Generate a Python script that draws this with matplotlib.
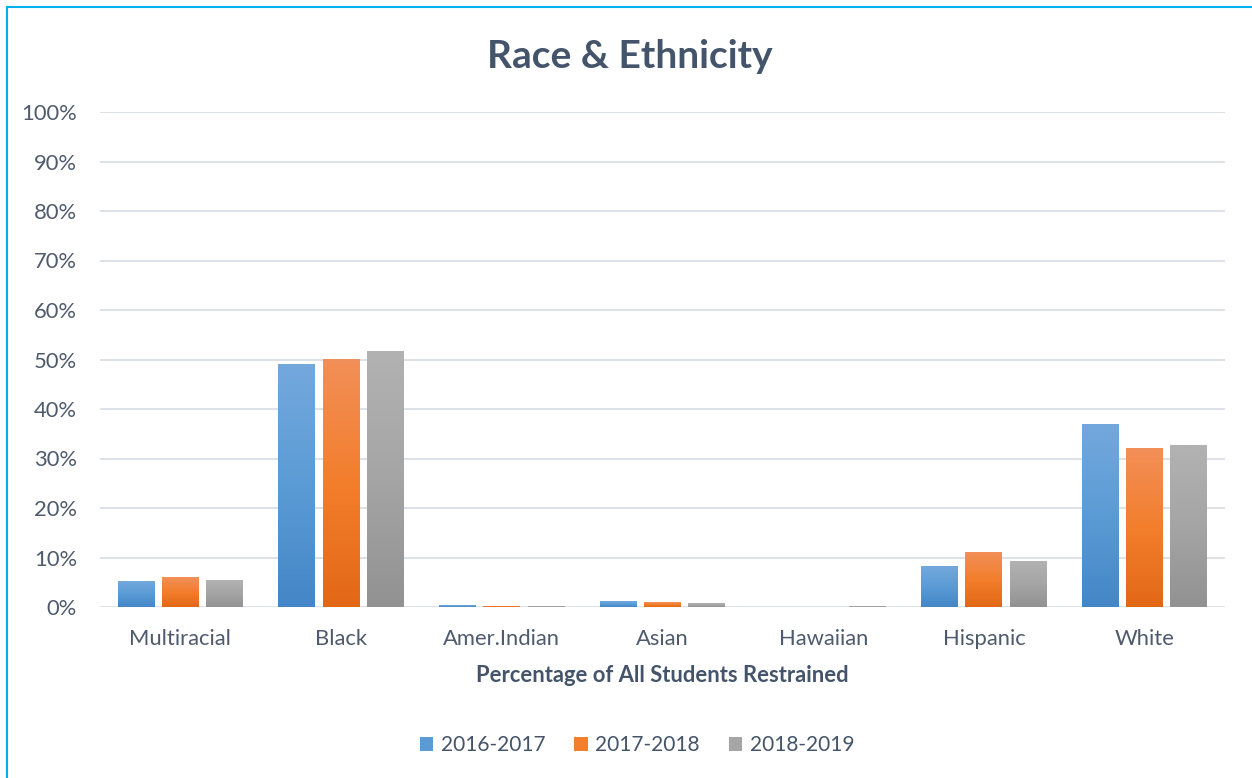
import numpy as np
import matplotlib.pyplot as plt
from matplotlib.colors import LinearSegmentedColormap
from matplotlib.ticker import FuncFormatter
from matplotlib.lines import Line2D

plt.rcParams['font.family'] = ['Lato', 'DejaVu Sans']

categories = ['Multiracial', 'Black', 'Amer.Indian', 'Asian', 'Hawaiian', 'Hispanic', 'White']
years = ['2016-2017', '2017-2018', '2018-2019']
pct_2016 = [5.1, 48.9, 0.4, 1.2, 0.0, 8.1, 36.8]
pct_2017 = [5.9, 50.0, 0.1, 1.0, 0.0, 11.1, 32.1]
pct_2018 = [5.3, 51.7, 0.1, 0.8, 0.1, 9.1, 32.7]

# top / mid / bottom shades for the gradient fill
shades = [('#73A8DD', '#5B9BD5', '#4486C7'),
          ('#F28F58', '#F37E2C', '#E26816'),
          ('#B2B2B2', '#A5A5A5', '#929292')]

text_col = '#44546A'
tick_col = '#4F5B6C'

fig = plt.figure(figsize=(12.52, 7.78), dpi=100)
ax = fig.add_axes([100/1252, 1 - 607/778, 1125/1252, 495/778])

x = np.arange(len(categories))
w = 0.23
step = 0.275
series = [pct_2016, pct_2017, pct_2018]

for i, vals in enumerate(series):
    top, mid, bot = shades[i]
    bars = ax.bar(x + (i - 1) * step, vals, w, color=mid, label=years[i], zorder=2)
    cmap = LinearSegmentedColormap.from_list('g%d' % i, [bot, mid, top])
    grad = np.linspace(0, 1, 100).reshape(-1, 1)
    for r in bars:
        if r.get_height() <= 0:
            continue
        x0, y0 = r.get_x(), r.get_y()
        ax.imshow(grad, cmap=cmap, origin='lower', aspect='auto', zorder=3,
                  extent=(x0, x0 + r.get_width(), y0, y0 + r.get_height()))

ax.set_xlim(-0.5, len(categories) - 0.5)
ax.set_ylim(0, 100)
ax.set_yticks(np.arange(0, 101, 10))
ax.yaxis.set_major_formatter(FuncFormatter(lambda v, p: '%d%%' % v))
ax.grid(axis='y', color='#DDE2E8', linewidth=1.4, zorder=0)
ax.set_axisbelow(True)
for s in ax.spines.values():
    s.set_visible(False)
ax.tick_params(axis='both', length=0, labelsize=15.8, colors=tick_col)
ax.tick_params(axis='y', pad=16.5)
ax.tick_params(axis='x', pad=16)
ax.set_xticks(x)
ax.set_xticklabels(categories)

fig.text(630/1252, 1 - 56/778, 'Race & Ethnicity', ha='center', va='center',
         fontsize=28, fontweight='bold', color=text_col)
fig.text(662/1252, 1 - 676/778, 'Percentage of All Students Restrained', ha='center',
         va='center', fontsize=15.8, fontweight='bold', color=text_col)

leg = fig.legend(loc='center', bbox_to_anchor=(637/1252, 1 - 745/778), ncol=3,
                 frameon=False, fontsize=15, handlelength=0.65, handleheight=0.65,
                 handletextpad=0.35, columnspacing=1.4)
for t in leg.get_texts():
    t.set_color(text_col)

# blue frame on top and left edge
fig.add_artist(Line2D([7/1252, 7/1252], [0, 1 - 7/778], color='#00B0F0', lw=1.5))
fig.add_artist(Line2D([7/1252, 1], [1 - 7/778, 1 - 7/778], color='#00B0F0', lw=1.5))

fig.savefig('out.png', dpi=100)
